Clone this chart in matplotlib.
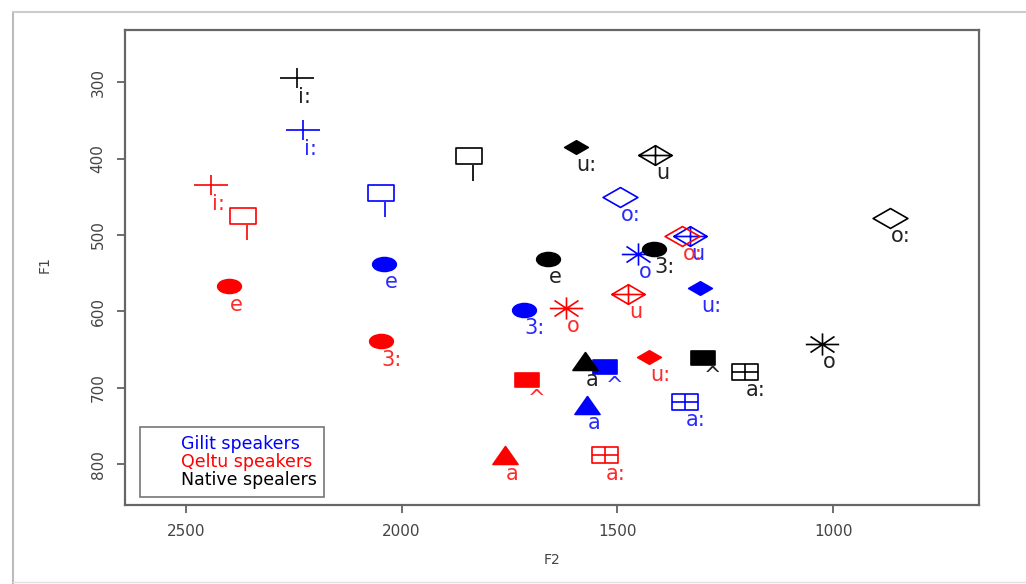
import matplotlib
matplotlib.use("Agg")
import matplotlib.pyplot as plt
from matplotlib.path import Path
from matplotlib.lines import Line2D
import numpy as np

# vowel labels and their symbols (same for every group)
vowels = ["i:", "I", "e", "3:", "a", "^", "a:", "o", "o:", "u", "u:"]
symbols = ["plus", "square", "circle", "circle", "triangle", "fsquare",
           "squareplus", "asterisk", "diamond", "diamondplus", "fdiamond"]

# F2 / F1 means per group
gilit_f2 = [2228, 2048, 2041, 1716, 1570, 1528, 1343, 1452, 1494, 1331, 1308]
gilit_f1 = [363, 445, 538, 598, 722, 673, 718, 525, 450, 501, 569]
qeltu_f2 = [2442, 2367, 2400, 2048, 1760, 1709, 1528, 1619, 1350, 1475, 1426]
qeltu_f1 = [435, 475, 567, 639, 788, 690, 788, 595, 501, 577, 659]
native_f2 = [2242, 1844, 1660, 1415, 1575, 1301, 1204, 1025, 868, 1412, 1596]
native_f1 = [295, 397, 531, 518, 665, 661, 679, 642, 478, 395, 385]

groups = ["Gilit speakers", "Qeltu speakers", "Native spealers"]
colors = ["#0000ff", "#ff0000", "#000000"]
text_colors = ["#2a2aff", "#ff2a2a", "#222222"]


def marker_path(kind):
    M, L, C = Path.MOVETO, Path.LINETO, Path.CLOSEPOLY
    if kind == "plus":
        w, h = 1.6, 1.0
        return Path([(-w, 0), (w, 0), (0, -h), (0, h)], [M, L, M, L])
    if kind in ("square", "fsquare"):
        w, h = 1.6, 1.0
        return Path([(-w, -h), (w, -h), (w, h), (-w, h), (-w, -h)], [M, L, L, L, C])
    if kind == "squareplus":
        w, h = 1.6, 1.0
        return Path([(-w, -h), (w, -h), (w, h), (-w, h), (-w, -h),
                     (-w, 0), (w, 0), (0, -h), (0, h)],
                    [M, L, L, L, C, M, L, M, L])
    if kind == "circle":
        c = Path.unit_circle()
        v = c.vertices.copy()
        v[:, 0] *= 1.7
        return Path(v, c.codes)
    if kind in ("diamond", "fdiamond"):
        w, h = 1.75, 1.0
        return Path([(0, -h), (w, 0), (0, h), (-w, 0), (0, -h)], [M, L, L, L, C])
    if kind == "diamondplus":
        w, h = 1.7, 1.0
        return Path([(0, -h), (w, 0), (0, h), (-w, 0), (0, -h),
                     (-w, 0), (w, 0), (0, -h), (0, h)],
                    [M, L, L, L, C, M, L, M, L])
    if kind == "asterisk":
        w, h = 1.5, 1.0
        d = 0.72
        return Path([(-w, 0), (w, 0), (0, -h), (0, h),
                     (-w * d, -h * d), (w * d, h * d), (-w * d, h * d), (w * d, -h * d)],
                    [M, L, M, L, M, L, M, L])
    if kind == "triangle":
        w, h = 1.4, 1.0
        return Path([(-w, -h), (w, -h), (0, h), (-w, -h)], [M, L, L, C])


# marker width in points
msize = {"plus": 24, "square": 19, "fsquare": 17, "squareplus": 19, "circle": 17,
         "diamond": 25, "fdiamond": 17, "diamondplus": 24, "asterisk": 24,
         "triangle": 18}
filled = {"circle", "fsquare", "fdiamond", "triangle"}

fig = plt.figure(figsize=(10.26, 5.84), dpi=100)
ax = fig.add_axes([125 / 1026, 1 - 505 / 584, 854 / 1026, 475 / 584])

data = [(gilit_f2, gilit_f1), (qeltu_f2, qeltu_f1), (native_f2, native_f1)]
for (f2, f1), col, tcol in zip(data, colors, text_colors):
    for x, y, v, s in zip(f2, f1, vowels, symbols):
        fc = col if s in filled else "none"
        ax.plot([x], [y], ls="none", marker=marker_path(s), ms=msize[s],
                mfc=fc, mec=col, mew=1.2)
        ax.annotate(v, (x, y), xytext=(0.5, -6), textcoords="offset points",
                    ha="left", va="top", color=tcol, fontsize=15)

ax.set_xlim(2641, 662)
ax.set_ylim(853, 232)
ax.set_xticks([2500, 2000, 1500, 1000])
ax.set_yticks([300, 400, 500, 600, 700, 800])
ax.tick_params(direction="out", length=6, width=1.2, color="#555555",
               labelsize=11, labelcolor="#444444", pad=8)
for lab in ax.get_yticklabels():
    lab.set_rotation(90)
    lab.set_va("center")
for sp in ax.spines.values():
    sp.set_color("#666666")
    sp.set_linewidth(1.6)

fig.text(552 / 1026, 1 - 560 / 584, "F2", ha="center", va="center",
         fontsize=10, color="#444444")
fig.text(45 / 1026, 1 - 265 / 584, "F1", ha="center", va="center",
         fontsize=10, color="#444444", rotation=90)

handles = [Line2D([], [], ls="none") for _ in groups]
leg = ax.legend(handles, groups, loc="lower left",
                bbox_to_anchor=((140 - 125) / 854, (505 - 497) / 475),
                borderaxespad=0, fontsize=12.5, handlelength=1.6,
                handletextpad=0.3, labelspacing=0.0, fancybox=False,
                labelcolor=colors, borderpad=0.45)
leg.get_frame().set_edgecolor("#555555")
leg.get_frame().set_linewidth(1.2)

# outer frame of the screenshot
fig.add_artist(Line2D([13 / 1026, 13 / 1026], [0, 1 - 12 / 584],
                      transform=fig.transFigure, color="#bbbbbb", lw=1.5))
fig.add_artist(Line2D([13 / 1026, 1], [1 - 12 / 584, 1 - 12 / 584],
                      transform=fig.transFigure, color="#cccccc", lw=1.5))
fig.add_artist(Line2D([13 / 1026, 1], [1 - 582 / 584, 1 - 582 / 584],
                      transform=fig.transFigure, color="#e0e0e0", lw=1.0))

fig.savefig("out.png", dpi=100)
